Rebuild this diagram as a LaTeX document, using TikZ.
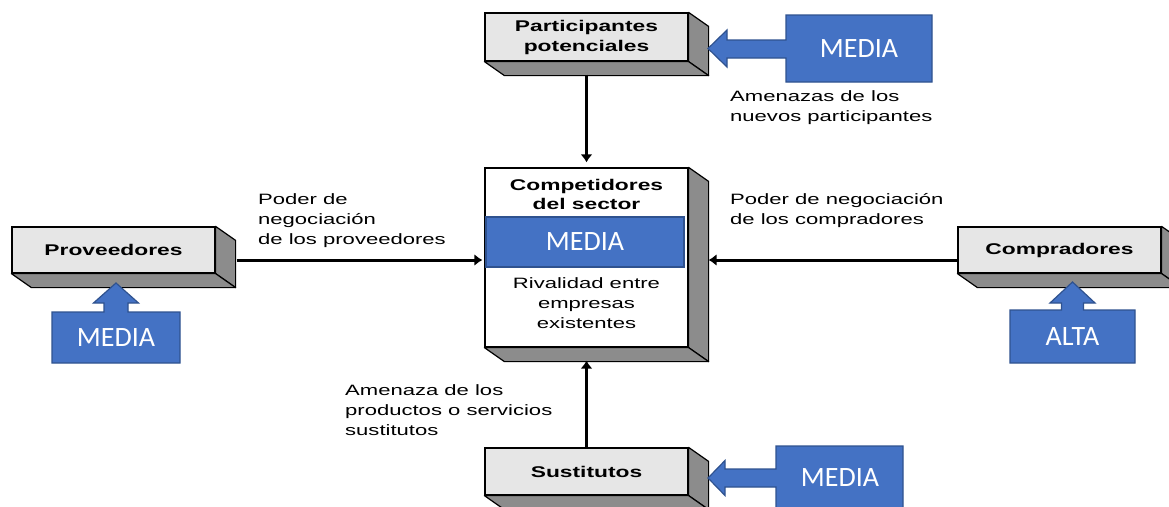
\documentclass[tikz,border=0pt]{standalone}
\usepackage{fontspec}
\newfontfamily\arialw{Liberation Sans}[FakeStretch=1.47]
\newfontfamily\calibri{Carlito}
\usepackage{tikz}
\usetikzlibrary{arrows.meta, positioning, calc}
\definecolor{cara}{HTML}{E6E6E6}
\definecolor{lado}{HTML}{8C8C8C}
\definecolor{azul}{HTML}{4472C4}
\definecolor{azulborde}{HTML}{2F528F}

\begin{document}
\begin{tikzpicture}[x=1pt,y=-1pt]
    \tikzstyle{caja}=[draw,line width=1.2pt,fill=cara,minimum width=203pt,inner sep=0pt,align=center,font=\arialw\bfseries\fontsize{15.5}{20}\selectfont]
    \tikzstyle{texto}=[inner sep=0pt,align=left,anchor=west,font=\arialw\fontsize{15}{20}\selectfont]
    \tikzstyle{media}=[text=white,inner sep=0pt,font=\calibri\fontsize{28}{30}\selectfont]
    \tikzstyle{flecha}=[fill=azul,draw=azulborde,line width=1.2pt,line join=miter]
    \tikzstyle{conn}=[line width=3pt,-{Latex[length=8pt,width=12pt]}]

    \clip (0,0) rectangle (1169,506);
    \fill[white] (0,0) rectangle (1169,506);

    \node[caja,minimum height=48pt] (part) at (586.5,37) {Participantes\\potenciales};
    \node[caja,fill=white,minimum height=179pt] (comp) at (586.5,257.5) {};
    \node[caja,minimum height=46pt] (prov) at (113.5,250) {Proveedores};
    \node[caja,minimum height=46pt] (compr) at (1059.5,250) {Compradores};
    \node[caja,minimum height=47pt] (sust) at (586.5,471.5) {Sustitutos};

    % caras laterales
    \foreach \n in {part,comp,prov,compr,sust}{
        \filldraw[fill=lado,line width=1.2pt,line join=round] (\n.north east) -- ++(20,14) -- ($(\n.south east)+(20,14)$) -- (\n.south east) -- cycle;
        \filldraw[fill=lado,line width=1.2pt,line join=round] (\n.south west) -- (\n.south east) -- ($(\n.south east)+(20,14)$) -- ($(\n.south west)+(20,14)$) -- cycle;
    }

    \node[font=\arialw\bfseries\fontsize{15.5}{19}\selectfont,align=center,inner sep=0pt] (comptit) at (586.5,194) {Competidores\\del sector};
    \node[draw=azulborde,fill=azul,line width=1.2pt,minimum width=198pt,minimum height=50pt,media] (mcomp) at (585,242) {MEDIA};
    \node[font=\arialw\fontsize{15}{20}\selectfont,align=center,inner sep=0pt] (riv) at (586.5,303) {Rivalidad entre\\empresas\\existentes};

    \coordinate (p1) at ($(prov.east)+(21,10)$);
    \coordinate (p2) at ($(p1 -| comp.west)+(-2,0)$);
    \coordinate (c1) at ($(compr.west)+(0,10)$);
    \coordinate (c2) at ($(c1 -| comp.east)+(20,0)$);

    \draw[conn,shorten <=13pt,shorten >=5pt] (part.south) -- (comp.north);
    \draw[conn,shorten >=13pt] (sust.north) -- (comp.south);
    \draw[conn] (p1) -- (p2);
    \draw[conn] (c1) -- (c2);

    % flechas azules
    \filldraw[flecha] (786,15) -- (932,15) -- (932,82) -- (786,82) -- (786,58) -- (727,58) -- (727,67) -- (708,48.5) -- (727,30) -- (727,40) -- (786,40) -- cycle;
    \node[media] (mpart) at (859,48.5) {MEDIA};
    \filldraw[flecha] (52,312) -- (104,312) -- (104,303) -- (93.5,303) -- (116,283) -- (138.5,303) -- (128,303) -- (128,312) -- (180,312) -- (180,363) -- (52,363) -- cycle;
    \node[media] (mprov) at (116,338) {MEDIA};
    \filldraw[flecha] (1010,310) -- (1061.5,310) -- (1061.5,303) -- (1050,303) -- (1072.5,282) -- (1095,303) -- (1083.5,303) -- (1083.5,310) -- (1135,310) -- (1135,363) -- (1010,363) -- cycle;
    \node[media] (mcompr) at (1072.5,337) {ALTA};
    \filldraw[flecha] (776,446) -- (903,446) -- (903,520) -- (776,520) -- (776,487) -- (725,487) -- (725,495.5) -- (708,478) -- (725,460.5) -- (725,469) -- (776,469) -- cycle;
    \node[media] (msust) at (840,478) {MEDIA};

    \node[texto] (tpart) at (730,108) {Amenazas de los\\nuevos participantes};
    \node[texto] (tprov) at (258,221) {Poder de\\negociación\\de los proveedores};
    \node[texto] (tcompr) at (730,211) {Poder de negociación\\de los compradores};
    \node[texto] (tsust) at (345,410) {Amenaza de los\\productos o servicios\\sustitutos};
\end{tikzpicture}
\end{document}
